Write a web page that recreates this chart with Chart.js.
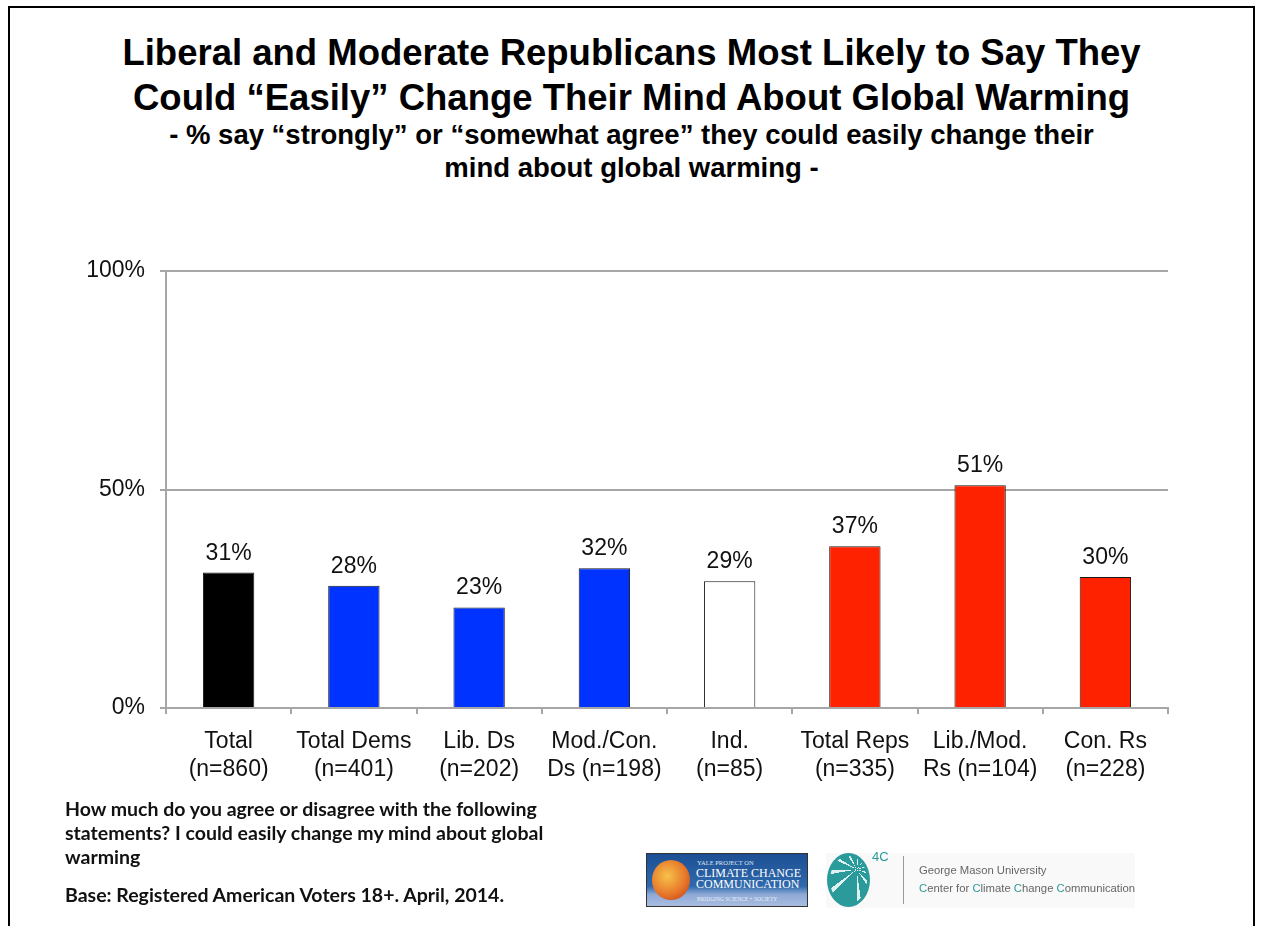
<!DOCTYPE html>
<html>
<head>
<meta charset="utf-8">
<script src="https://cdn.jsdelivr.net/npm/chart.js@4.4.1/dist/chart.umd.min.js"></script>
<style>
  html, body { margin: 0; padding: 0; background: #fff; }
  body { width: 1263px; height: 926px; position: relative; overflow: hidden; font-family: "Liberation Sans", Arial, sans-serif; }
  #frame { position: absolute; left: 8px; top: 6px; width: 1247px; height: 940px; border: 2px solid #000; box-sizing: border-box; }
  #title { position: absolute; left: 0; width: 1263px; top: 30px; text-align: center; font-weight: bold; font-size: 36.5px; line-height: 45px; color: #000; white-space: nowrap; }
  #subtitle { position: absolute; left: 0; width: 1263px; top: 118px; text-align: center; font-weight: bold; font-size: 27.5px; line-height: 33px; color: #000; white-space: nowrap; }
  #chartBox { position: absolute; left: 0; top: 0; width: 1263px; height: 926px; }
  #note { position: absolute; left: 65px; top: 797px; font-family: Lato, "Open Sans", sans-serif; font-weight: bold; font-size: 19.5px; line-height: 24px; color: #111; white-space: nowrap; }
  #base { position: absolute; left: 65px; top: 883px; font-family: Lato, "Open Sans", sans-serif; font-weight: bold; font-size: 19.5px; line-height: 24px; color: #111; white-space: nowrap; }
  #yale { position: absolute; left: 646px; top: 853px; width: 162px; height: 54px; box-sizing: border-box; border: 1px solid #333;
          background: linear-gradient(#1d4f93, #2f69ad 62%, #8fa9d6 78%, #a8bde0); overflow: hidden; }
  #globe { position: absolute; left: 5px; top: 6px; width: 38px; height: 40px; border-radius: 50%;
           background: radial-gradient(circle at 40% 40%, #f6c24a, #e8782a 55%, #b8371c); }
  #yale .t1 { position: absolute; left: 50px; top: 5px; font-family: "Liberation Serif", serif; font-size: 6.5px; color: #dfe8f5; white-space: nowrap; }
  #yale .t2 { position: absolute; left: 49px; top: 14px; font-family: "Liberation Serif", serif; font-size: 12px; line-height: 11px; color: #fff; white-space: nowrap; }
  #yale .t3 { position: absolute; left: 50px; top: 42px; font-family: "Liberation Serif", serif; font-size: 5.5px; color: #e8eef8; white-space: nowrap; }
  #gmu { position: absolute; left: 826px; top: 853px; width: 309px; height: 55px; background: #f9f9f9; }
  #ring { position: absolute; left: 827px; top: 853px; width: 43px; height: 54px; border-radius: 50%; border: 3px solid #2a9a9b; box-sizing: border-box;
          background: repeating-conic-gradient(from 200deg at 72% 28%, #2a9a9b 0deg 26deg, #dff0f0 26deg 34deg); }
  #fourc { position: absolute; left: 872px; top: 849px; font-size: 13px; color: #2a9a9b; }
  #sep { position: absolute; left: 903px; top: 856px; width: 1px; height: 48px; background: #999; }
  #gmuText { position: absolute; left: 919px; top: 861px; font-size: 11.3px; line-height: 18px; color: #666; white-space: nowrap; }
  #gmuText b { font-weight: normal; color: #2a9a9b; }
</style>
</head>
<body>
<div id="frame"></div>
<div id="title">Liberal and Moderate Republicans Most Likely to Say They<br>Could “Easily” Change Their Mind About Global Warming</div>
<div id="subtitle">- % say “strongly” or “somewhat agree” they could easily change their<br>mind about global warming -</div>
<div id="chartBox"><canvas id="chart" width="1263" height="926"></canvas></div>
<div id="note">How much do you agree or disagree with the following<br>statements? I could easily change my mind about global<br>warming</div>
<div id="base">Base: Registered American Voters 18+. April, 2014.</div>
<div id="yale">
  <div id="globe"></div>
  <div class="t1">YALE PROJECT ON</div>
  <div class="t2">CLIMATE CHANGE<br>COMMUNICATION</div>
  <div class="t3">BRIDGING SCIENCE + SOCIETY</div>
</div>
<div id="gmu"></div>
<div id="ring"></div>
<div id="fourc">4C</div>
<div id="sep"></div>
<div id="gmuText">George Mason University<br><b>C</b>enter for <b>C</b>limate <b>C</b>hange <b>C</b>ommunication</div>

<script>
// categories (two lines each)
const categories = [
    ['Total', '(n=860)'],
    ['Total Dems', '(n=401)'],
    ['Lib. Ds', '(n=202)'],
    ['Mod./Con.', 'Ds (n=198)'],
    ['Ind.', '(n=85)'],
    ['Total Reps', '(n=335)'],
    ['Lib./Mod.', 'Rs (n=104)'],
    ['Con. Rs', '(n=228)']
];
// % agree
const values = [31, 28, 23, 32, 29, 37, 51, 30];
const barColors = ['#000000', '#0033ff', '#0033ff', '#0033ff', '#ffffff', '#ff2200', '#ff2200', '#ff2200'];
const yTicks = [0, 50, 100];

const gridGray = '#a6a6a6';

// value labels above the bars
const valueLabels = {
    id: 'valueLabels',
    afterDatasetsDraw(chart) {
        const ctx = chart.ctx;
        const meta = chart.getDatasetMeta(0);
        ctx.save();
        ctx.font = '23px "Liberation Sans", Arial, sans-serif';
        ctx.fillStyle = '#111';
        ctx.textAlign = 'center';
        ctx.textBaseline = 'alphabetic';
        meta.data.forEach((bar, i) => {
            ctx.fillText(values[i] + '%', bar.x, bar.y - 13);
        });
        ctx.restore();
    }
};

const ctx = document.getElementById('chart').getContext('2d');
const chart = new Chart(ctx, {
    type: 'bar',
    data: {
        labels: categories,
        datasets: [{
            data: values,
            backgroundColor: barColors,
            borderColor: '#1a1a1a',
            borderWidth: 1,
            barPercentage: 0.41,
            categoryPercentage: 1
        }]
    },
    options: {
        responsive: false,
        animation: false,
        layout: {
            padding: { left: 60, right: 95, top: 271, bottom: 138 }
        },
        plugins: {
            legend: { display: false },
            tooltip: { enabled: false }
        },
        scales: {
            x: {
                offset: true,
                afterFit(scale) { scale.height = 80; },
                grid: {
                    offset: true,
                    drawOnChartArea: false,
                    drawTicks: true,
                    tickLength: 6,
                    color: gridGray,
                    lineWidth: 2
                },
                border: { display: true, color: gridGray, width: 2 },
                ticks: {
                    color: '#111',
                    padding: 14,
                    maxRotation: 0,
                    autoSkip: false,
                    font: { family: '"Liberation Sans", Arial, sans-serif', size: 23, lineHeight: 1.2 }
                }
            },
            y: {
                min: 0,
                max: 100,
                afterFit(scale) { scale.width = 106; },
                afterBuildTicks(scale) { scale.ticks = yTicks.map(v => ({ value: v })); },
                grid: {
                    color: gridGray,
                    lineWidth: 2,
                    tickLength: 6
                },
                border: { display: true, color: gridGray, width: 2 },
                ticks: {
                    color: '#111',
                    padding: 15,
                    callback: v => v + '%',
                    font: { family: '"Liberation Sans", Arial, sans-serif', size: 23 }
                }
            }
        }
    },
    plugins: [valueLabels]
});
</script>
</body>
</html>
